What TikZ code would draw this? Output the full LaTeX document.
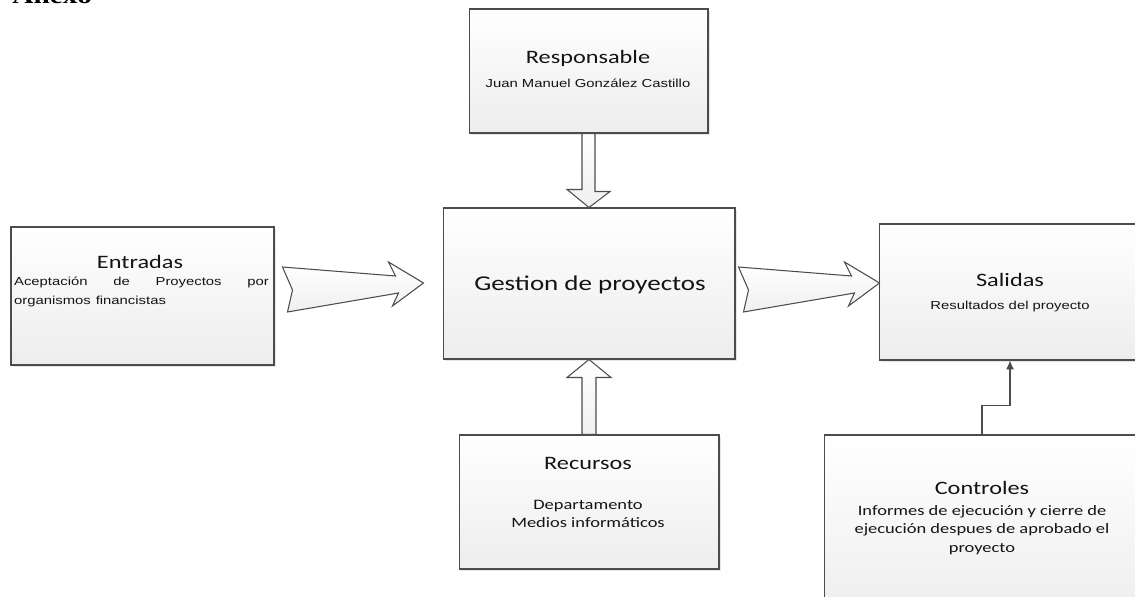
\documentclass[tikz,border=0pt]{standalone}
\usepackage{fontspec}
\setmainfont{Carlito}
\newfontfamily\arialfont{Liberation Sans}
\newfontfamily\anexofont{Liberation Serif}
\usetikzlibrary{arrows.meta,shadows}

\tikzset{
  box/.style={draw=gray!60!black, line width=0.6pt, top color=white, bottom color=gray!14,
    drop shadow={shadow xshift=1pt, shadow yshift=-1pt, opacity=0.2, fill=gray},
    inner sep=0pt},
  blk/.style={draw=gray!60!black, line width=0.6pt, top color=white, bottom color=gray!12},
  txt/.style={xscale=1.28, transform shape, inner sep=0pt, align=center, text=black!92},
  ttl/.style={txt, font=\fontsize{10.8}{13}\selectfont},
  ari/.style={txt, font=\arialfont\fontsize{6.6}{11.3}\selectfont},
  cal/.style={txt, font=\fontsize{8.2}{10.4}\selectfont},
  conn/.style={draw=gray!60!black, line width=0.7pt, -{Latex[length=5pt,width=4.5pt]}}
}

\begin{document}
\begin{tikzpicture}[x=0.02cm,y=-0.02cm]
    \useasboundingbox (0,0) rectangle (1135,597);
    % boxes
    \node[box, minimum width=4.78cm, minimum height=2.48cm] (resp) at (588.5,71) {};
    \node[box, minimum width=5.26cm, minimum height=2.76cm] (ent) at (142.5,296) {};
    \node[box, minimum width=5.84cm, minimum height=3.02cm] (gest) at (589,283.5) {};
    \node[box, minimum width=5.24cm, minimum height=2.72cm] (sal) at (1010,292) {};
    \node[box, minimum width=5.2cm, minimum height=2.68cm] (rec) at (589,502) {};
    \node[box, minimum width=6.32cm, minimum height=3.8cm] (ctl) at (982,530) {};
    % texts
    \node[anchor=base west, xscale=1.28, transform shape, inner sep=0pt,
          font=\anexofont\bfseries\fontsize{13}{15}\selectfont] (anexo) at (12,4) {Anexo};
    \node[ttl] (resp-t) at (588,58) {Responsable};
    \node[ari] (resp-b) at (588,83) {Juan Manuel González Castillo};
    \node[ttl] (ent-t) at (140,262) {Entradas};
    \node[ari, align=left, text width=3.98cm] (ent-b) at (141.5,292)
        {Aceptación\hfill de\hfill Proyectos\hfill por\\organismos financistas};
    \node[txt, font=\fontsize{12}{14}\selectfont] (gest-t) at (590,285) {Gestion de proyectos};
    \node[ttl] (sal-t) at (1010,280) {Salidas};
    \node[ari] (sal-b) at (1010,307) {Resultados del proyecto};
    \node[ttl] (rec-t) at (588,463) {Recursos};
    \node[cal] (rec-b) at (588,514) {Departamento\\Medios informáticos};
    \node[ttl] (ctl-t) at (982,488) {Controles};
    \node[cal] (ctl-b) at (982,530) {Informes de ejecución y cierre de\\ejecución despues de aprobado el\\proyecto};
    % block arrows
    \draw[blk] (resp.south) ++(-6.5,0) -- ++(13,0) -- ++(0,58) -- ++(15,0) -- (gest.north)
        -- ++(-22,-18) -- ++(15,0) -- cycle;
    \draw[blk] (rec.north) ++(-7,0) -- ++(14,0) -- ++(0,-57) -- ++(15,0) -- (gest.south)
        -- ++(-22,18) -- ++(15,0) -- cycle;
    \draw[blk] ([shift={(8,-29)}]ent.east) -- ++(113,9) -- ++(-7,-14) -- ++(35,21)
        -- ++(-31,23) -- ++(6,-13) -- ++(-111,19) -- ++(5,-22) -- cycle;
    \draw[blk] ([shift={(3,-16.5)}]gest.east) -- ++(113,9) -- ++(-7,-14) -- ++(35,21)
        -- ++(-31,23) -- ++(6,-13) -- ++(-111,19) -- ++(5,-22) -- cycle;
    % control connector
    \draw[conn] (ctl.north) -- ++(0,-29) -| (sal.south);
\end{tikzpicture}
\end{document}
